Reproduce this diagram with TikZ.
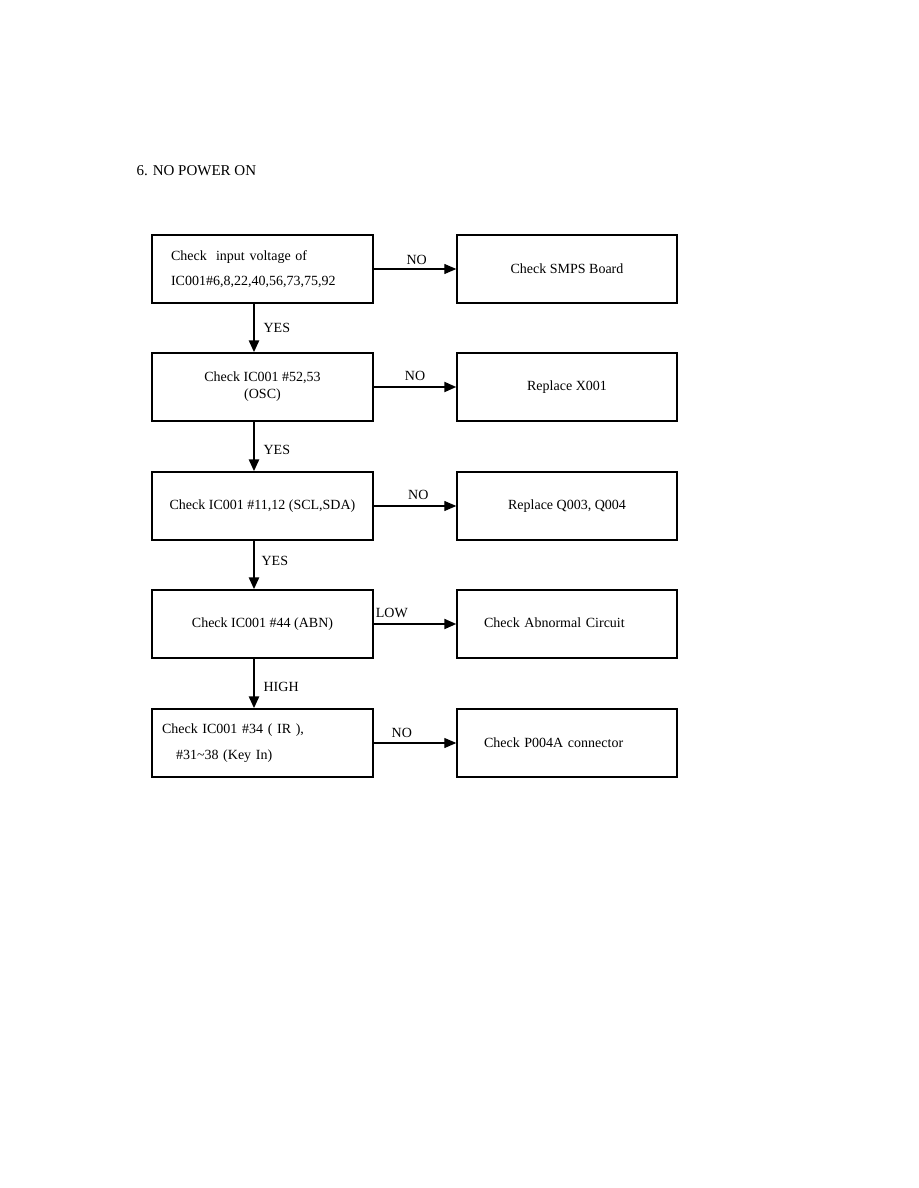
\documentclass[tikz,border=0pt]{standalone}
\usepackage{fontspec}
\setmainfont{Liberation Serif}
\usetikzlibrary{arrows.meta,positioning,calc}

\begin{document}
\begin{tikzpicture}[x=1pt, y=-1pt,
  box/.style={draw, line width=1.4pt, minimum width=221pt, minimum height=68pt,
    font=\fontsize{14}{25}\selectfont, align=center, inner sep=0pt},
  leftbox/.style={box, align=left, text width=183pt, inner xsep=19pt},
  rbox/.style={box, minimum width=220pt},
  farbox/.style={rbox, align=left, text width=166pt, inner xsep=27pt},
  lab/.style={font=\fontsize{14}{16}\selectfont},
  arr/.style={-{Triangle[length=12pt,width=10pt]}, line width=1.2pt},
  darr/.style={-{Triangle[length=12pt,width=10pt]}, line width=2.6pt}]
\useasboundingbox (0,0) rectangle (918,1188);
%% ---- title ----
\node[lab, font=\fontsize{15}{16}\selectfont, anchor=west] (title) at (133,171) {6. NO POWER ON};
%% ---- left column ----
\node[leftbox] (c1) at (262.5,269) {Check\ \ input voltage of\\IC001\#6,8,22,40,56,73,75,92};
\node[box, font=\fontsize{14}{17}\selectfont] (c2) at (262.5,387) {Check IC001 \#52,53\\(OSC)};
\node[box] (c3) at (262.5,506) {Check IC001 \#11,12 (SCL,SDA)};
\node[box] (c4) at (262.5,624) {Check IC001 \#44 (ABN)};
\node[box, align=left, text width=201pt, inner xsep=10pt, font=\fontsize{14}{26}\selectfont]
  (c5) at (262.5,743) {Check IC001 \#34 ( IR ),\\\hspace*{14pt}\#31\textasciitilde 38 (Key In)};
%% ---- right column ----
\node[rbox] (r1) at (567,269) {Check SMPS Board};
\node[rbox] (r2) at (567,387) {Replace X001};
\node[rbox] (r3) at (567,506) {\raisebox{3pt}{Replace Q003, Q004}};
\node[farbox] (r4) at (567,624) {\raisebox{2pt}{Check Abnormal Circuit}};
\node[farbox] (r5) at (567,743) {Check P004A connector};
%% ---- NO / LOW branches ----
\draw[arr] (c1.east) -- node[lab, above, pos=0.52] {NO} (r1.west);
\draw[darr, line width=2pt] (c2.east) -- node[lab, above, pos=0.5, yshift=2pt] {NO} (r2.west);
\draw[arr] (c3.east) -- node[lab, above, pos=0.54, yshift=2pt] {NO} (r3.west);
\draw[darr, line width=2pt] (c4.east) -- node[lab, above, pos=0.22, yshift=2pt] {LOW} (r4.west);
\draw[arr] (c5.east) -- node[lab, above, pos=0.34, yshift=1pt] {NO} (r5.west);
%% ---- YES / HIGH chain ----
\draw[darr] ([xshift=-8.5pt]c1.south) -- node[lab, right, xshift=5pt] {YES} ([xshift=-8.5pt]c2.north);
\draw[darr] ([xshift=-8.5pt]c2.south) -- node[lab, right, xshift=5pt, pos=0.56] {YES} ([xshift=-8.5pt]c3.north);
\draw[darr] ([xshift=-8.5pt]c3.south) -- node[lab, right, xshift=3pt, pos=0.42] {YES} ([xshift=-8.5pt]c4.north);
\draw[darr] ([xshift=-8.5pt]c4.south) -- node[lab, right, xshift=5pt, pos=0.56] {HIGH} ([xshift=-8.5pt]c5.north);
\end{tikzpicture}
\end{document}
